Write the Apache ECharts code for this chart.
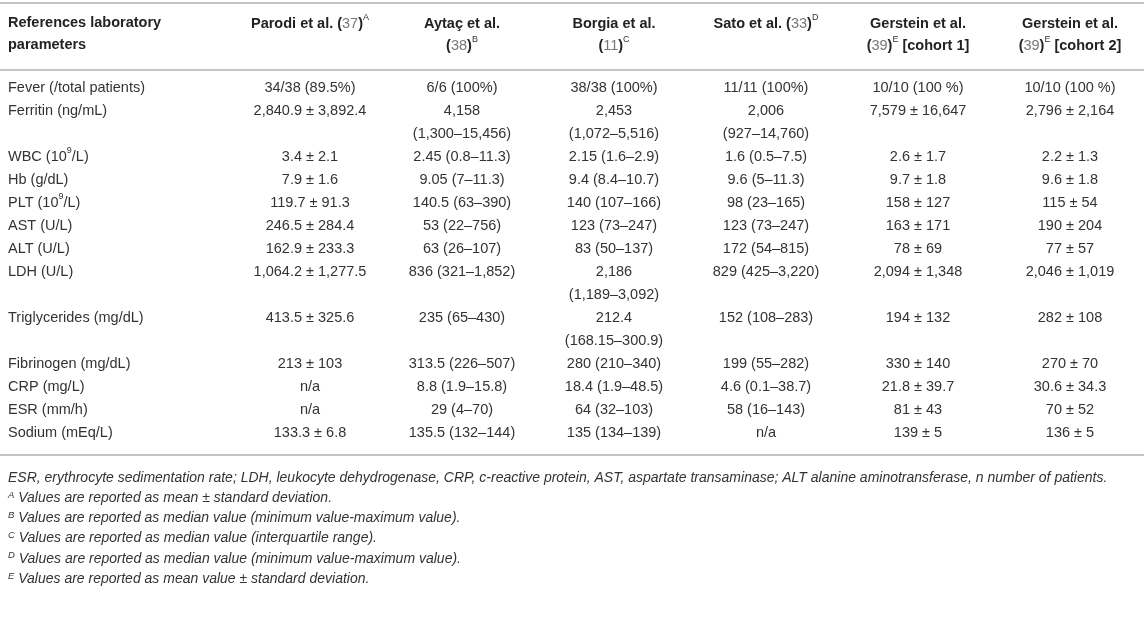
<!DOCTYPE html>
<html>
<head>
<meta charset="utf-8">
<script src="https://cdn.jsdelivr.net/npm/echarts@6/dist/echarts.min.js"></script>
<style>
  html, body { margin: 0; background: #fff; }
  #chart { width: 1144px; height: 618px; }
</style>
</head>
<body>
<div id="chart"></div>
<script>
// column headers
const studies = ['Parodi et al.', 'Aytaç et al.', 'Borgia et al.', 'Sato et al.', 'Gerstein et al.', 'Gerstein et al.']
const studyRefs = ['37', '38', '11', '33', '39', '39']
const studyNotes = ['A', 'B', 'C', 'D', 'E', 'E']
const studyCohorts = ['', '', '', '', '[cohort 1]', '[cohort 2]']

// row labels
const parameters = [
  'Fever (/total patients)', 'Ferritin (ng/mL)', 'WBC (10^9/L)', 'Hb (g/dL)', 'PLT (10^9/L)',
  'AST (U/L)', 'ALT (U/L)', 'LDH (U/L)', 'Triglycerides (mg/dL)', 'Fibrinogen (mg/dL)',
  'CRP (mg/L)', 'ESR (mm/h)', 'Sodium (mEq/L)'
]

// one array per study, same order as parameters
const parodi = [
  '34/38 (89.5%)', '2,840.9 ± 3,892.4', '3.4 ± 2.1', '7.9 ± 1.6', '119.7 ± 91.3',
  '246.5 ± 284.4', '162.9 ± 233.3', '1,064.2 ± 1,277.5', '413.5 ± 325.6', '213 ± 103',
  'n/a', 'n/a', '133.3 ± 6.8'
]
const aytac = [
  '6/6 (100%)', '4,158\n(1,300–15,456)', '2.45 (0.8–11.3)', '9.05 (7–11.3)', '140.5 (63–390)',
  '53 (22–756)', '63 (26–107)', '836 (321–1,852)', '235 (65–430)', '313.5 (226–507)',
  '8.8 (1.9–15.8)', '29 (4–70)', '135.5 (132–144)'
]
const borgia = [
  '38/38 (100%)', '2,453\n(1,072–5,516)', '2.15 (1.6–2.9)', '9.4 (8.4–10.7)', '140 (107–166)',
  '123 (73–247)', '83 (50–137)', '2,186\n(1,189–3,092)', '212.4\n(168.15–300.9)', '280 (210–340)',
  '18.4 (1.9–48.5)', '64 (32–103)', '135 (134–139)'
]
const sato = [
  '11/11 (100%)', '2,006\n(927–14,760)', '1.6 (0.5–7.5)', '9.6 (5–11.3)', '98 (23–165)',
  '123 (73–247)', '172 (54–815)', '829 (425–3,220)', '152 (108–283)', '199 (55–282)',
  '4.6 (0.1–38.7)', '58 (16–143)', 'n/a'
]
const gerstein1 = [
  '10/10 (100 %)', '7,579 ± 16,647', '2.6 ± 1.7', '9.7 ± 1.8', '158 ± 127',
  '163 ± 171', '78 ± 69', '2,094 ± 1,348', '194 ± 132', '330 ± 140',
  '21.8 ± 39.7', '81 ± 43', '139 ± 5'
]
const gerstein2 = [
  '10/10 (100 %)', '2,796 ± 2,164', '2.2 ± 1.3', '9.6 ± 1.8', '115 ± 54',
  '190 ± 204', '77 ± 57', '2,046 ± 1,019', '282 ± 108', '270 ± 70',
  '30.6 ± 34.3', '70 ± 52', '136 ± 5'
]

// footnotes
const footnoteMarks = ['', 'A', 'B', 'C', 'D', 'E']
const footnoteTexts = [
  'ESR, erythrocyte sedimentation rate; LDH, leukocyte dehydrogenase, CRP, c-reactive protein, AST, aspartate transaminase; ALT alanine aminotransferase, n number of patients.',
  'Values are reported as mean ± standard deviation.',
  'Values are reported as median value (minimum value-maximum value).',
  'Values are reported as median value (interquartile range).',
  'Values are reported as median value (minimum value-maximum value).',
  'Values are reported as mean value ± standard deviation.'
]

const FONT = '"Liberation Sans", Arial, sans-serif'
const TEXT = '#333'
const RULE = '#c4c4c4'
const headerWrap = [false, true, true, false, true, true]

const columns = [parodi, aytac, borgia, sato, gerstein1, gerstein2]

// every row takes as many text lines as its tallest cell
let lineStart = []
let lineCount = 0
parameters.forEach((p, r) => {
  lineStart.push(lineCount)
  lineCount += Math.max(...columns.map(c => c[r].split('\n').length))
})

let lineLabels = new Array(lineCount).fill('')
parameters.forEach((p, r) => {
  lineLabels[lineStart[r]] = '{t|' + p.replace(/\^(\w+)/g, '}{sup|$1}{t|') + '}'
})

let cells = []
columns.forEach((col, c) => {
  col.forEach((val, r) => {
    val.split('\n').forEach((txt, k) => cells.push([c, lineStart[r] + k, txt]))
  })
})

const supStyle = { fontSize: 9, fontFamily: FONT, color: TEXT, verticalAlign: 'top', lineHeight: 16 }

let chart = echarts.init(document.getElementById('chart'))
chart.setOption({
  animation: false,
  backgroundColor: '#fff',
  grid: { left: 310, right: 74, top: 88, bottom: 185 },
  xAxis: {
    type: 'category',
    position: 'top',
    boundaryGap: false,
    data: studies,
    axisLine: { show: false },
    axisTick: { show: false },
    splitLine: { show: false },
    axisLabel: {
      interval: 0,
      margin: 75,
      verticalAlign: 'top',
      align: 'center',
      formatter: (value, i) => {
        let ref = `{b|(}{ref|${studyRefs[i]}}{b|)}{sup|${studyNotes[i]}}`
        let cohort = studyCohorts[i] ? `{b| ${studyCohorts[i]}}` : ''
        return headerWrap[i] ? `{b|${value}}\n${ref}${cohort}` : `{b|${value} }${ref}`
      },
      rich: {
        b: { fontSize: 14.5, fontWeight: 'bold', fontFamily: FONT, color: '#222', lineHeight: 22 },
        ref: { fontSize: 14.5, fontFamily: FONT, color: '#777', lineHeight: 22 },
        sup: supStyle
      }
    }
  },
  yAxis: {
    type: 'value',
    inverse: true,
    min: 0,
    max: lineCount - 1,
    interval: 1,
    axisLine: { show: false },
    axisTick: { show: false },
    splitLine: { show: false },
    axisLabel: {
      showMinLabel: true,
      showMaxLabel: true,
      align: 'left',
      margin: 302,
      formatter: (v) => lineLabels[v] || '',
      rich: {
        t: { fontSize: 14.5, fontFamily: FONT, color: TEXT, lineHeight: 22 },
        sup: supStyle
      }
    }
  },
  series: [{
    type: 'custom',
    data: cells,
    renderItem: (params, api) => {
      let pt = api.coord([api.value(0), api.value(1)])
      return {
        type: 'text',
        x: pt[0],
        y: pt[1],
        style: {
          text: cells[params.dataIndex][2],
          font: `14.5px ${FONT}`,
          fill: TEXT,
          align: 'center',
          verticalAlign: 'middle'
        }
      }
    }
  }],
  graphic: [
    { type: 'line', shape: { x1: 0, y1: 3, x2: 1144, y2: 3 }, style: { stroke: RULE, lineWidth: 2 } },
    { type: 'line', shape: { x1: 0, y1: 70, x2: 1144, y2: 70 }, style: { stroke: RULE, lineWidth: 2 } },
    { type: 'line', shape: { x1: 0, y1: 455, x2: 1144, y2: 455 }, style: { stroke: RULE, lineWidth: 2 } },
    {
      type: 'text', x: 8, y: 12,
      style: {
        text: 'References laboratory\nparameters',
        font: `bold 14.5px ${FONT}`,
        fill: '#222',
        lineHeight: 22
      }
    },
    ...footnoteTexts.map((t, i) => ({
      type: 'text', x: 8, y: 470 + i * 20.2,
      style: {
        text: (footnoteMarks[i] ? `{s|${footnoteMarks[i]}}{i| ${t}}` : `{i|${t}}`),
        rich: {
          i: { fontSize: 14, fontStyle: 'italic', fontFamily: FONT, fill: TEXT, lineHeight: 16 },
          s: { fontSize: 9.5, fontStyle: 'italic', fontFamily: FONT, fill: TEXT, verticalAlign: 'top', lineHeight: 16 }
        }
      }
    }))
  ]
})
</script>
</body>
</html>
